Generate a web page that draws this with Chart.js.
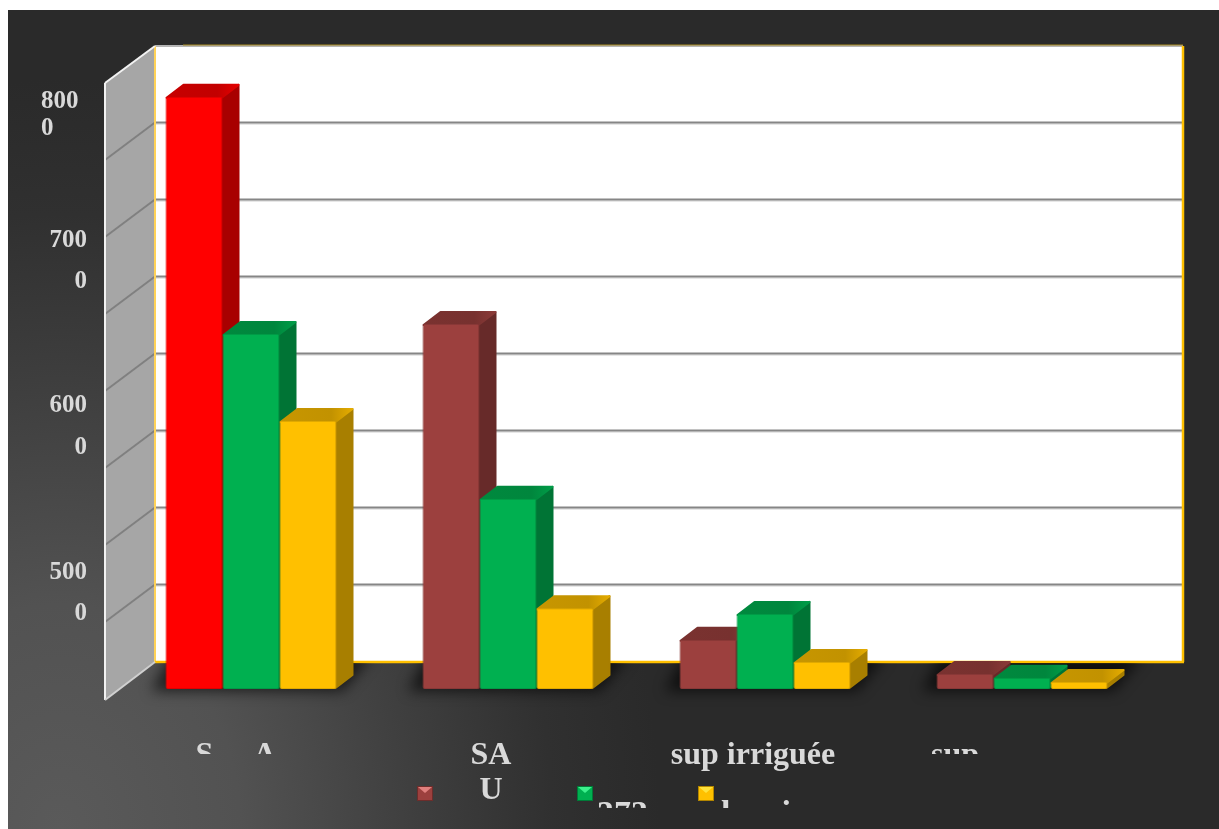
<!DOCTYPE html>
<html>
<head>
<meta charset="utf-8">
<title>Superficies</title>
<script src="https://cdn.jsdelivr.net/npm/chart.js@4"></script>
<style>
  html, body { margin: 0; padding: 0; background: #fff; overflow: hidden; }
  canvas { display: block; }
</style>
</head>
<body>
<canvas id="chart" width="1219" height="829"></canvas>
<script>
const categories = [['S     A'], ['SA', 'U'], ['sup irriguée'], ['sup']];
const seriesNames = ['', '373', 'l      i'];
const seriesA = [7690, 4740, 640, 195];
const seriesB = [4610, 2470, 975, 145];
const seriesC = [3480, 1050, 350, 90];
const yTickLabels = [['800', '0'], ['700', '0'], ['600', '0'], ['500', '0']];

const RED = '#ff0000', BROWN = '#9c403e', GREEN = '#00b050', YELLOW = '#ffc000';
const TEXT = '#d9d9d9';
const FONT = 'bold 32px "Liberation Serif"';

// depth of the bars and of the walls, in pixels
const BAR_DX = 17, BAR_DY = 13;
const BACK_X = 155, FRONT_X = 105, BACK_DY = -27, FRONT_DY = 10;
const RIGHT_X = 1183;

function shade(hex, k) {
    const n = parseInt(hex.slice(1), 16);
    const r = Math.round((n >> 16) * k), g = Math.round(((n >> 8) & 255) * k), b = Math.round((n & 255) * k);
    return `rgb(${r},${g},${b})`;
}

function poly(ctx, pts, fill, round) {
    ctx.beginPath();
    pts.forEach((p, i) => i ? ctx.lineTo(p[0], p[1]) : ctx.moveTo(p[0], p[1]));
    ctx.closePath();
    ctx.fillStyle = fill;
    ctx.fill();
    if (round) {
        ctx.strokeStyle = fill;
        ctx.lineWidth = round;
        ctx.lineJoin = 'round';
        ctx.stroke();
    }
}

function seg(ctx, x1, y1, x2, y2, color, w) {
    ctx.beginPath();
    ctx.moveTo(x1, y1);
    ctx.lineTo(x2, y2);
    ctx.strokeStyle = color;
    ctx.lineWidth = w;
    ctx.stroke();
}

// dark backdrop, lighter toward the lower left corner
const backdrop = {
    id: 'backdrop',
    beforeDraw(chart) {
        const ctx = chart.ctx;
        ctx.save();
        ctx.fillStyle = '#fff';
        ctx.fillRect(0, 0, chart.width, chart.height);
        ctx.beginPath();
        ctx.rect(8, 10, chart.width - 8, chart.height - 10);
        ctx.clip();
        ctx.translate(60, 829);
        ctx.scale(1, 1.25);
        const g = ctx.createRadialGradient(0, 0, 0, 0, 0, 600);
        g.addColorStop(0, '#5a5a5a');
        g.addColorStop(0.3, '#525252');
        g.addColorStop(0.6, '#3e3e3e');
        g.addColorStop(0.82, '#303030');
        g.addColorStop(1, '#2a2a2a');
        ctx.fillStyle = g;
        ctx.fillRect(-100, -800, 1400, 900);
        ctx.restore();
    }
};

// back wall, side wall, grid lines and floor shadows; then the bars, left to right
const walls = {
    id: 'walls',
    beforeDatasetsDraw(chart) {
        const ctx = chart.ctx, y = chart.scales.y;
        const top = y.getPixelForValue(y.max), base = y.getPixelForValue(0);
        const backTop = top + BACK_DY, backBase = base + BACK_DY;
        ctx.save();
        ctx.fillStyle = '#fff';
        ctx.fillRect(BACK_X, backTop, RIGHT_X - BACK_X, backBase - backTop);
        poly(ctx, [[FRONT_X, top + FRONT_DY], [BACK_X, backTop], [BACK_X, backBase], [FRONT_X, base + FRONT_DY + 1]], '#a6a6a6');

        y.ticks.forEach(t => {
            if (t.value === 0 || t.value === y.max) return;
            const p = y.getPixelForValue(t.value);
            seg(ctx, BACK_X, p + BACK_DY + 1, RIGHT_X, p + BACK_DY + 1, '#cfcfcf', 1);
            seg(ctx, BACK_X, p + BACK_DY - 0.5, RIGHT_X, p + BACK_DY - 0.5, '#868686', 2);
            seg(ctx, FRONT_X, p + FRONT_DY, BACK_X, p + BACK_DY - 0.5, '#808080', 2);
        });

        seg(ctx, BACK_X, backTop, RIGHT_X, backTop, '#b5b5b5', 2);
        seg(ctx, 183, backTop - 1, RIGHT_X, backTop - 1, '#a88a20', 1);
        seg(ctx, BACK_X, backTop, BACK_X, backBase, '#ffd257', 2);
        seg(ctx, BACK_X, backBase, RIGHT_X + 1, backBase, '#ffc000', 2.5);
        seg(ctx, RIGHT_X, backTop, RIGHT_X, backBase, '#ffc000', 2.5);
        seg(ctx, FRONT_X, top + FRONT_DY, FRONT_X, base + FRONT_DY + 1, '#f2f2f2', 2);
        seg(ctx, FRONT_X, top + FRONT_DY, BACK_X, backTop, '#f2f2f2', 2);
        seg(ctx, FRONT_X, base + FRONT_DY + 1, BACK_X, backBase, '#d0d0d0', 2);

        // soft shadow on the floor around each group of bars
        ctx.beginPath();
        ctx.rect(0, backBase + 1, chart.width, chart.height);
        ctx.clip();
        ctx.filter = 'blur(7px)';
        categories.forEach((c, i) => {
            const bars = chart.data.datasets.map((d, k) => chart.getDatasetMeta(k).data[i]);
            const l = Math.min(...bars.map(b => b.x - b.width / 2));
            const r = Math.max(...bars.map(b => b.x + b.width / 2));
            poly(ctx, [[l - 14, base + 2], [r + 6, base + 2], [r + BAR_DX + 18, backBase - 6], [l + 4, backBase - 6]], 'rgba(0,0,0,0.65)');
        });
        ctx.restore();
    },
    // the default pass paints the last series first; skip it so the faces overlap properly
    beforeDatasetDraw() {
        return false;
    },
    afterDatasetsDraw(chart) {
        const ctx = chart.ctx;
        chart.data.datasets.forEach((ds, k) => {
            const meta = chart.getDatasetMeta(k);
            meta.data.forEach((bar, i) => {
                const color = ds.backgroundColor[i];
                const l = bar.x - bar.width / 2, r = bar.x + bar.width / 2;
                const t = bar.y, b = bar.base;
                poly(ctx, [[r - 1, t + 1], [r + BAR_DX - 1, t - BAR_DY + 1], [r + BAR_DX - 1, b - BAR_DY - 1], [r - 1, b - 1]], shade(color, 0.66), 2);
                const g = ctx.createLinearGradient(l, 0, r + BAR_DX, 0);
                g.addColorStop(0, shade(color, 0.78));
                g.addColorStop(0.7, shade(color, 0.76));
                g.addColorStop(1, shade(color, 0.9));
                poly(ctx, [[l + 1, t + 1], [l + BAR_DX + 1, t - BAR_DY + 1], [r + BAR_DX - 1, t - BAR_DY + 1], [r - 1, t + 1]], g, 2);
            });
            meta.controller.draw();
        });
    }
};

// axis texts and legend row
const labels = {
    id: 'labels',
    afterDraw(chart) {
        const ctx = chart.ctx, x = chart.scales.x;
        ctx.save();
        ctx.fillStyle = TEXT;
        ctx.textBaseline = 'alphabetic';

        // value axis labels wrap onto two lines
        ctx.font = 'bold 25px "Liberation Serif"';
        const rows = [[108, 135], [247, 288], [412, 454], [579, 620]];
        yTickLabels.forEach((lines, i) => {
            ctx.textAlign = i === 0 ? 'left' : 'right';
            const px = i === 0 ? 41 : 87;
            lines.forEach((s, j) => ctx.fillText(s, px, rows[i][j]));
        });

        // category labels, some cut off by the label box
        ctx.font = FONT;
        ctx.textAlign = 'center';
        const shifts = [-15, -17, -12, -67];
        const cut = [754, 829, 829, 754];
        categories.forEach((lines, i) => {
            ctx.save();
            ctx.beginPath();
            ctx.rect(0, 0, chart.width, cut[i]);
            ctx.clip();
            lines.forEach((s, j) => ctx.fillText(s, x.getPixelForTick(i) + shifts[i], 764 + j * 35));
            ctx.restore();
        });

        // legend keys
        const keyX = [417, 577, 698];
        chart.data.datasets.forEach((ds, i) => {
            const c = ds.legendColor, k = keyX[i], kt = 786;
            ctx.fillStyle = shade(c, 0.7);
            ctx.fillRect(k, kt, 16, 15);
            ctx.fillStyle = c;
            ctx.fillRect(k + 1, kt + 1, 14, 13);
            poly(ctx, [[k + 1, kt + 1], [k + 15, kt + 1], [k + 8, kt + 7]], i === 0 ? '#e0807e' : i === 1 ? '#3cf08c' : '#ffe23c');
        });

        // legend text is cut off at the bottom of its box
        ctx.beginPath();
        ctx.rect(0, 0, chart.width, 808);
        ctx.clip();
        ctx.font = 'bold 34px "Liberation Serif"';
        ctx.fillStyle = TEXT;
        ctx.textAlign = 'left';
        const nameX = [440, 597, 721];
        seriesNames.forEach((s, i) => ctx.fillText(s, nameX[i], 824));
        ctx.restore();
    }
};

function barSet(label, data, colors, legendColor) {
    return {
        label, data, legendColor,
        backgroundColor: colors,
        borderColor: colors.map(c => shade(c, 0.88)),
        borderWidth: 1,
        borderRadius: 2,
        borderSkipped: false,
        clip: false
    };
}

new Chart(document.getElementById('chart').getContext('2d'), {
    type: 'bar',
    data: {
        labels: categories,
        datasets: [
            barSet(seriesNames[0], seriesA, [RED, BROWN, BROWN, BROWN], BROWN),
            barSet(seriesNames[1], seriesB, [GREEN, GREEN, GREEN, GREEN], GREEN),
            barSet(seriesNames[2], seriesC, [YELLOW, YELLOW, YELLOW, YELLOW], YELLOW)
        ]
    },
    options: {
        responsive: false,
        animation: false,
        layout: { padding: { left: 122.5, right: 68.5, top: 73, bottom: 140 } },
        plugins: { legend: { display: false }, tooltip: { enabled: false } },
        datasets: { bar: { categoryPercentage: 171 / 257, barPercentage: 1 } },
        scales: {
            x: { display: false },
            y: { display: false, min: 0, max: 8000, ticks: { stepSize: 1000 } }
        }
    },
    plugins: [backdrop, walls, labels]
});
</script>
</body>
</html>
